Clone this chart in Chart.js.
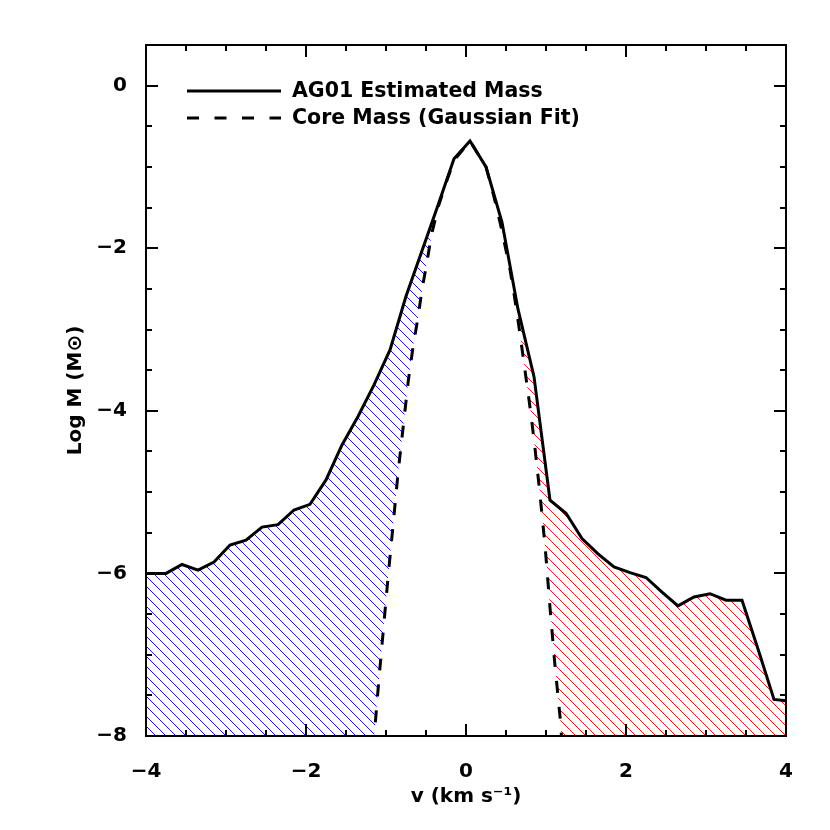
<!DOCTYPE html>
<html>
<head>
<meta charset="utf-8">
<script src="https://cdn.jsdelivr.net/npm/chart.js@4.4.0/dist/chart.umd.min.js"></script>
<style>
  html, body { margin: 0; padding: 0; background: #fff; }
  #wrap { width: 830px; height: 830px; }
</style>
</head>
<body>
<div id="wrap"><canvas id="massChart" width="830" height="830"></canvas></div>
<script>
// estimated mass spectrum (AG01), log M vs velocity
const velocity = [-4.15, -3.95, -3.75, -3.55, -3.35, -3.15, -2.95, -2.75, -2.55, -2.35, -2.15, -1.95, -1.75, -1.55,
  -1.35, -1.15, -0.95, -0.75, -0.55, -0.35, -0.15, 0.05, 0.25, 0.45, 0.65, 0.85, 1.05, 1.25,
  1.45, 1.65, 1.85, 2.05, 2.25, 2.45, 2.65, 2.85, 3.05, 3.25, 3.45, 3.65, 3.85, 4.05];
const logMass = [-6.00, -6.00, -6.00, -5.89, -5.96, -5.86, -5.65, -5.59, -5.43, -5.40, -5.22, -5.15, -4.85, -4.42,
  -4.07, -3.68, -3.25, -2.59, -2.03, -1.47, -0.90, -0.68, -1.00, -1.68, -2.75, -3.58, -5.10, -5.26,
  -5.57, -5.76, -5.92, -5.99, -6.05, -6.23, -6.40, -6.29, -6.25, -6.33, -6.33, -6.93, -7.55, -7.57];

// gaussian core fit
const coreVelocity = [-1.16, -1.09, -1.03, -0.97, -0.91, -0.85, -0.78, -0.72, -0.66, -0.60, -0.55, -0.49, -0.43,
  -0.35, -0.25, -0.15, -0.05, 0.05, 0.15, 0.25, 0.34, 0.43, 0.55, 0.61, 0.67, 0.73, 0.79, 0.85,
  0.92, 0.99, 1.05, 1.11, 1.18, 1.20];
const coreLogMass = [-8.15, -7.32, -6.66, -6.00, -5.39, -4.77, -4.15, -3.62, -3.20, -2.85, -2.51, -2.18, -1.83,
  -1.50, -1.20, -0.92, -0.80, -0.68, -0.84, -1.00, -1.33, -1.70, -2.26, -2.62, -3.02, -3.45, -3.88, -4.35,
  -4.98, -5.68, -6.42, -7.11, -7.81, -8.10];

const xTicks = [-4, -2, 0, 2, 4];
const yTicks = [-8, -6, -4, -2, 0];
const legendLabels = ['AG01 Estimated Mass', 'Core Mass (Gaussian Fit)'];

const FONT = 'DejaVu Sans';
const minus = v => String(v).replace('-', '\u2212');

function hatch(color) {
  const c = document.createElement('canvas');
  c.width = 20; c.height = 20;
  const g = c.getContext('2d');
  g.strokeStyle = color;
  g.lineWidth = 1;
  for (let k = -20; k <= 20; k += 10) {
    g.beginPath();
    g.moveTo(k, 0);
    g.lineTo(k + 20, 20);
    g.stroke();
  }
  return g.createPattern(c, 'repeat');
}

const pts = (xs, ys) => xs.map((x, i) => ({ x, y: ys[i] }));
const solid = pts(velocity, logMass);
const core = pts(coreVelocity, coreLogMass);

// frame + inward ticks on all four sides (IDL style)
const frame = {
  id: 'frame',
  afterDatasetsDraw(chart) {
    const { ctx, chartArea: a, scales: { x, y } } = chart;
    ctx.save();
    ctx.strokeStyle = '#000';
    ctx.lineWidth = 2;
    ctx.strokeRect(a.left, a.top, a.right - a.left, a.bottom - a.top);
    ctx.beginPath();
    for (let v = -4; v <= 4.001; v += 0.5) {
      const len = xTicks.includes(v) ? 12 : 6;
      const px = Math.round(x.getPixelForValue(v));
      ctx.moveTo(px, a.bottom); ctx.lineTo(px, a.bottom - len);
      ctx.moveTo(px, a.top); ctx.lineTo(px, a.top + len);
    }
    for (let v = -8; v <= 0.501; v += 0.5) {
      const len = yTicks.includes(v) ? 12 : 6;
      const py = Math.round(y.getPixelForValue(v));
      ctx.moveTo(a.left, py); ctx.lineTo(a.left + len, py);
      ctx.moveTo(a.right, py); ctx.lineTo(a.right - len, py);
    }
    ctx.stroke();
    ctx.restore();
  }
};

const legendBox = {
  id: 'legendBox',
  afterDraw(chart) {
    const { ctx } = chart;
    ctx.save();
    ctx.strokeStyle = '#000';
    ctx.fillStyle = '#000';
    ctx.lineWidth = 3;
    ctx.font = 'bold 20.5px "' + FONT + '"';
    ctx.textBaseline = 'middle';
    [[], [12, 15.5]].forEach((dash, i) => {
      const yy = 91 + i * 27;
      ctx.setLineDash(dash);
      ctx.beginPath();
      ctx.moveTo(187, yy); ctx.lineTo(281, yy);
      ctx.stroke();
      ctx.fillText(legendLabels[i], 292, yy + 1);
    });
    ctx.restore();
  }
};

new Chart(document.getElementById('massChart'), {
  type: 'line',
  data: {
    datasets: [
      {
        data: solid, borderColor: '#000', borderWidth: 3, pointRadius: 0, fill: false, order: 0
      },
      {
        data: core, borderColor: '#000', borderWidth: 3, borderDash: [12, 14], pointRadius: 0,
        fill: 'start', backgroundColor: '#fff', order: 1
      },
      {
        data: solid.filter(p => p.x <= 0.05), borderWidth: 0, pointRadius: 0,
        fill: 'start', backgroundColor: hatch('rgb(20,20,255)'), order: 2
      },
      {
        data: solid.filter(p => p.x >= 0.05), borderWidth: 0, pointRadius: 0,
        fill: 'start', backgroundColor: hatch('rgb(255,20,20)'), order: 3
      }
    ]
  },
  options: {
    responsive: false,
    animation: false,
    layout: { padding: { top: 45, right: 44, left: 0, bottom: 0 } },
    plugins: { legend: { display: false }, tooltip: { enabled: false } },
    scales: {
      x: {
        type: 'linear', min: -4, max: 4,
        afterBuildTicks: s => { s.ticks = xTicks.map(value => ({ value })); },
        afterFit: s => { s.height = 94; },
        grid: { display: false }, border: { display: false },
        ticks: { color: '#000', padding: 16, font: { family: FONT, size: 20, weight: 'bold' }, callback: minus },
        title: { display: true, text: 'v (km s\u207B\u00B9)', color: '#000', padding: { top: 0, bottom: 21 },
          font: { family: FONT, size: 20, weight: 'bold' } }
      },
      y: {
        type: 'linear', min: -8, max: 0.5,
        afterBuildTicks: s => { s.ticks = yTicks.map(value => ({ value })); },
        afterFit: s => { s.width = 146; },
        grid: { display: false }, border: { display: false },
        ticks: { color: '#000', padding: 11, font: { family: FONT, size: 20, weight: 'bold' }, callback: minus },
        title: { display: true, text: 'Log M (M\u2299)', color: '#000', padding: { top: 64, bottom: 0 },
          font: { family: FONT, size: 20, weight: 'bold' } }
      }
    }
  },
  plugins: [frame, legendBox]
});
</script>
</body>
</html>
